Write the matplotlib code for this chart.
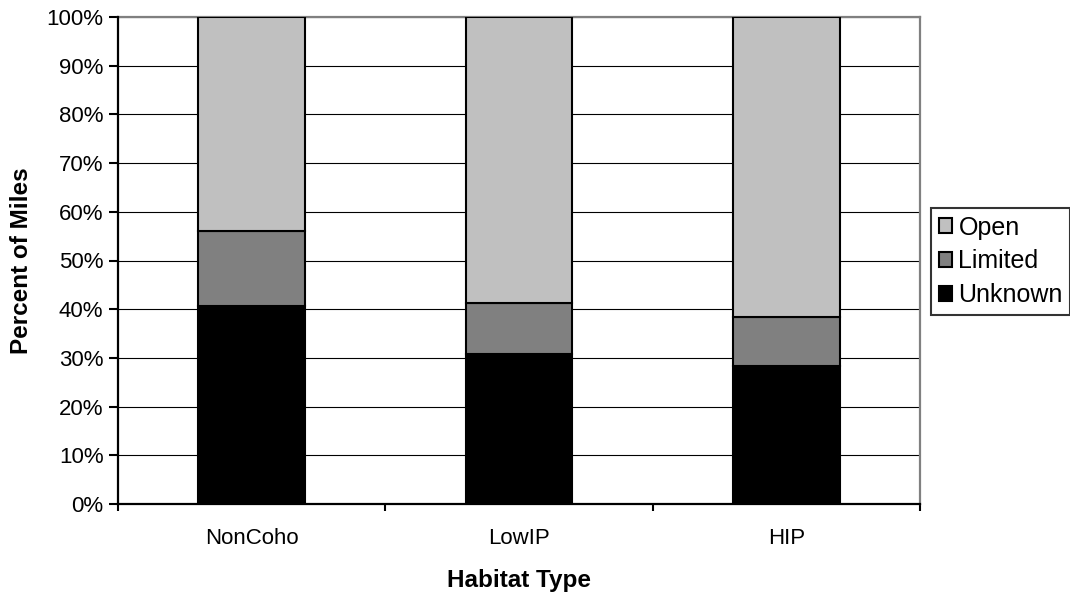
import matplotlib.pyplot as plt
from matplotlib.patches import Patch

plt.rcParams['font.family'] = ['Liberation Sans', 'DejaVu Sans']

# percent of miles by habitat type
habitats = ['NonCoho', 'LowIP', 'HIP']
unknown = [40.7, 30.7, 28.3]
limited = [15.4, 10.6, 10.2]
open_ = [43.9, 58.7, 61.5]

colors = {'Open': '#C0C0C0', 'Limited': '#808080', 'Unknown': '#000000'}

fig = plt.figure(figsize=(10.7, 5.92), dpi=100)
ax = fig.add_axes([118 / 1070, 1 - 504 / 592, (920 - 118) / 1070, (504 - 17) / 592])

x = range(len(habitats))
w = 0.4
bottom2 = [u + l for u, l in zip(unknown, limited)]
ax.bar(x, unknown, w, color=colors['Unknown'], edgecolor='black', linewidth=1.5, zorder=3)
ax.bar(x, limited, w, bottom=unknown, color=colors['Limited'], edgecolor='black', linewidth=1.5, zorder=3)
ax.bar(x, open_, w, bottom=bottom2, color=colors['Open'], edgecolor='black', linewidth=1.5, zorder=3)

ax.set_xlim(-0.5, len(habitats) - 0.5)
ax.set_ylim(0, 100)

yt = list(range(0, 101, 10))
ax.set_yticks(yt)
ax.set_yticklabels([f'{v}%' for v in yt], fontsize=16)
ax.yaxis.grid(True, color='black', linewidth=0.8, zorder=1)

# category boundaries carry the tick marks, names sit at the bar centres
ax.set_xticks([i - 0.5 for i in range(len(habitats) + 1)])
ax.set_xticklabels([])
ax.set_xticks(list(x), minor=True)
ax.set_xticklabels(habitats, minor=True, fontsize=16)
ax.tick_params(axis='x', which='minor', length=0, pad=17)
ax.tick_params(axis='x', which='major', direction='out', length=5, width=1.5, color='black')
ax.tick_params(axis='y', direction='out', length=6.5, width=1.5, pad=4)

for side in ['left', 'bottom']:
    ax.spines[side].set_color('black')
    ax.spines[side].set_linewidth(1.6)
    ax.spines[side].set_zorder(4)
for side in ['top', 'right']:
    ax.spines[side].set_color('#808080')
    ax.spines[side].set_linewidth(1.6)

ax.set_xlabel('Habitat Type', fontsize=17.5, fontweight='bold', labelpad=15)
ax.set_ylabel('Percent of Miles', fontsize=17.5, fontweight='bold', labelpad=10)

handles = [Patch(facecolor=colors[k], edgecolor='black', linewidth=1.5, label=k)
           for k in ['Open', 'Limited', 'Unknown']]
leg = fig.legend(handles=handles, loc='upper left',
                 bbox_to_anchor=(931 / 1070, 1 - 208 / 592),
                 fontsize=18, frameon=True, fancybox=False,
                 handlelength=0.55, handleheight=0.55, handletextpad=0.25,
                 borderpad=0.3, labelspacing=0.4, borderaxespad=0)
leg.get_frame().set_edgecolor('black')
leg.get_frame().set_linewidth(1.5)

fig.savefig('out.png', dpi=100)
